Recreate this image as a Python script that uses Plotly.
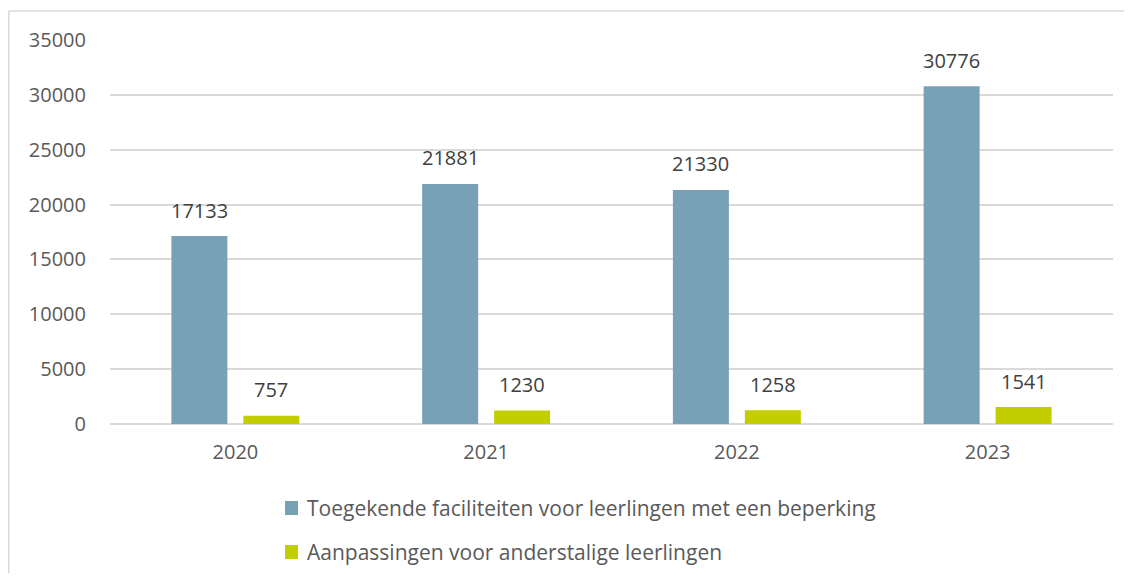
import plotly.graph_objects as go

years = ["2020", "2021", "2022", "2023"]
series1_name = "Toegekende faciliteiten voor leerlingen met een beperking"
series1 = [17133, 21881, 21330, 30776]
series2_name = "Aanpassingen voor anderstalige leerlingen"
series2 = [757, 1230, 1258, 1541]
y_ticks = [0, 5000, 10000, 15000, 20000, 25000, 30000, 35000]

BLUE = "#78A1B5"
GREEN = "#C3CE00"
FONT = "'Open Sans', Lato, sans-serif"
FS = 20

# page body has an 8px margin on every side, so the figure is 16px smaller than the window
W, H = 1116, 565
L, R, T, B = 102, 11, 32, 149
pw, ph = W - L - R, H - T - B


def px_x(x):
    return (x - L) / pw


def px_y(y):
    return 1 - (y - T) / ph


fig = go.Figure()
fig.add_trace(go.Bar(x=years, y=series1, name=series1_name, marker_color=BLUE,
                     marker_line_width=0, showlegend=False))
fig.add_trace(go.Bar(x=years, y=series2, name=series2_name, marker_color=GREEN,
                     marker_line_width=0, showlegend=False))

annotations = []
for vals, shift in ((series1, -36), (series2, 36)):
    for i, v in enumerate(vals):
        # category axis: annotation x is the category index
        annotations.append(dict(x=i, y=v, xref="x", yref="y", text=str(v),
                                showarrow=False, xshift=shift, yshift=26,
                                yanchor="middle",
                                font=dict(family=FONT, size=FS, color="#404040")))

# legend (drawn as swatch + text so it does not push the plot margins)
for name, col, yc in ((series1_name, BLUE, 500), (series2_name, GREEN, 544)):
    fig.add_shape(type="rect", xref="paper", yref="paper",
                  x0=px_x(277), x1=px_x(290), y0=px_y(yc - 7), y1=px_y(yc + 7),
                  line_width=0, fillcolor=col)
    annotations.append(dict(x=px_x(297), y=px_y(yc), xref="paper", yref="paper",
                            text=name, showarrow=False, xanchor="left", yanchor="middle",
                            font=dict(family=FONT, size=21, color="#595959")))

# outer frame (chart area border, cropped on the right/bottom)
fig.add_shape(type="line", xref="paper", yref="paper", x0=px_x(0.75), x1=px_x(W + 5),
              y0=px_y(3), y1=px_y(3), line=dict(color="#D9D9D9", width=1.5))
fig.add_shape(type="line", xref="paper", yref="paper", x0=px_x(0.75), x1=px_x(0.75),
              y0=px_y(3), y1=px_y(H + 5), line=dict(color="#D9D9D9", width=1.5))

fig.update_layout(
    width=W, height=H,
    margin=dict(l=L, r=R, t=T, b=B, autoexpand=False),
    paper_bgcolor="white", plot_bgcolor="white",
    barmode="group", bargap=0.426, bargroupgap=0.222,
    font=dict(family=FONT, color="#595959", size=FS),
    annotations=annotations,
    showlegend=False,
)
fig.update_xaxes(type="category", categoryorder="array", categoryarray=years,
                 range=[-0.5, len(years) - 0.5], autorange=False,
                 showgrid=False, showline=False, ticks="", ticklabelstandoff=14,
                 tickfont=dict(family=FONT, size=FS, color="#595959"))
fig.update_yaxes(range=[0, 35000], tickvals=y_ticks, ticktext=[str(v) for v in y_ticks],
                 showgrid=True, gridcolor="#D9D9D9",
                 gridwidth=1.5, zeroline=True, zerolinecolor="#D9D9D9", zerolinewidth=2,
                 showline=False, ticks="", ticklabelstandoff=23,
                 tickfont=dict(family=FONT, size=FS, color="#595959"))

fig.write_html("out.html")
